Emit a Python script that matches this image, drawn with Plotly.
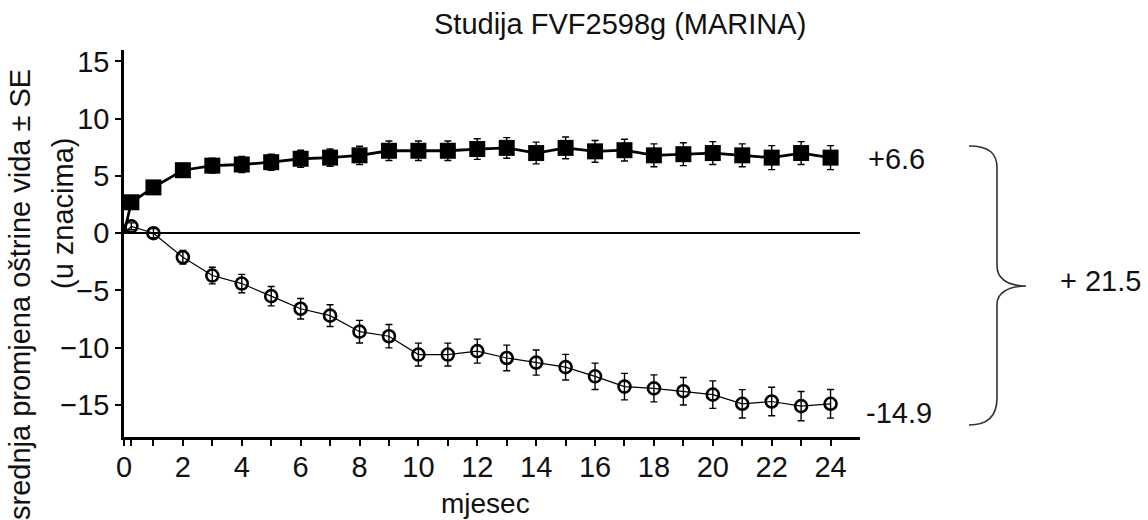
import plotly.graph_objects as go

# ---- data ----
months = [0, 0.25] + list(range(1, 25))
ranibizumab = [0, 2.7, 4.0, 5.5, 5.9, 6.0, 6.2, 6.5, 6.6, 6.8, 7.2, 7.2, 7.2, 7.35,
               7.45, 7.0, 7.45, 7.15, 7.25, 6.8, 6.9, 7.0, 6.8, 6.6, 7.0, 6.6]
ranibizumab_se = [0, 0.4, 0.5, 0.6, 0.65, 0.7, 0.7, 0.75, 0.75, 0.8, 0.85, 0.85, 0.85,
                  0.9, 0.9, 0.95, 0.95, 0.95, 0.95, 1.0, 1.0, 1.0, 1.0, 1.05, 1.0, 1.05]
sham = [0, 0.6, 0.0, -2.1, -3.7, -4.4, -5.5, -6.6, -7.2, -8.6, -9.0, -10.6, -10.6, -10.3,
        -10.9, -11.3, -11.7, -12.5, -13.4, -13.55, -13.8, -14.1, -14.9, -14.7, -15.1, -14.9]
sham_se = [0, 0.3, 0.4, 0.6, 0.73, 0.8, 0.85, 0.9, 0.95, 0.99, 1.02, 1.0, 1.0, 1.05,
           1.12, 1.1, 1.12, 1.15, 1.16, 1.18, 1.2, 1.2, 1.24, 1.25, 1.28, 1.25]

x_tickvals = [0, 0.25] + list(range(1, 25))
x_ticktext = ["0", ""] + [str(m) if m % 2 == 0 else "" for m in range(1, 25)]
y_tickvals = [15, 10, 5, 0, -5, -10, -15]

title_text = "Studija FVF2598g (MARINA)"
ytitle_1 = "srednja promjena oštrine vida ± SE"
ytitle_2 = "(u znacima)"
xtitle = "mjesec"
label_rani = "+6.6"
label_sham = "-14.9"
label_diff = "+ 21.5"

# ---- layout geometry ----
W, H = 1148, 520
ML, MR, MT, MB = 124, 288, 50, 83
PW, PH = W - ML - MR, H - MT - MB


def pp(px, py):
    """pixel -> paper coordinates"""
    return (px - ML) / PW, (H - MB - py) / PH


FONT = "Liberation Sans, Arial, sans-serif"
INK = "#111111"

fig = go.Figure()

marker_sizes_sq = [0] + [16] * (len(months) - 1)
marker_sizes_ci = [0] + [12] * (len(months) - 1)

fig.add_trace(go.Scatter(
    x=months, y=sham, mode="lines+markers",
    line=dict(color="black", width=1.2),
    marker=dict(symbol="circle-open", size=marker_sizes_ci, color="black", opacity=1,
                line=dict(width=2.6, color="black")),
    error_y=dict(type="data", array=sham_se, visible=True, color="black",
                 thickness=1.4, width=3.5),
    showlegend=False, cliponaxis=True,
))
fig.add_trace(go.Scatter(
    x=months, y=ranibizumab, mode="lines+markers",
    line=dict(color="black", width=2.8),
    marker=dict(symbol="square", size=marker_sizes_sq, color="black", opacity=1,
                line=dict(width=0)),
    error_y=dict(type="data", array=ranibizumab_se, visible=True, color="black",
                 thickness=1.4, width=3.5),
    showlegend=False, cliponaxis=True,
))

# brace (pixel definition -> paper)
def P(px, py):
    x, y = pp(px, py)
    return f"{x:.5f},{y:.5f}"

brace = (f"M {P(969,146)} C {P(990,146)} {P(997,154)} {P(997,168)} "
         f"L {P(997,266)} C {P(997,278)} {P(1007,286)} {P(1026,286)} "
         f"C {P(1007,286)} {P(997,294)} {P(997,304)} "
         f"L {P(997,398)} C {P(997,413)} {P(990,425)} {P(969,425)}")
fig.add_shape(type="path", path=brace, xref="paper", yref="paper",
              line=dict(color="#333333", width=1.6))

ann = []
for txt, (px, py) in [(label_rani, (866, 159)), (label_sham, (864, 413)),
                      (label_diff, (1058, 281))]:
    ax_, ay_ = pp(px, py)
    ann.append(dict(text=txt, x=ax_, y=ay_, xref="paper", yref="paper",
                    xanchor="left", yanchor="middle", showarrow=False,
                    font=dict(size=29, color=INK, family=FONT)))
for txt, (px, py) in [(ytitle_1, (20, 295)), (ytitle_2, (63, 213))]:
    ax_, ay_ = pp(px, py)
    ann.append(dict(text=txt, x=ax_, y=ay_, xref="paper", yref="paper",
                    xanchor="center", yanchor="middle", showarrow=False,
                    textangle=-90,
                    font=dict(size=29, color=INK, family=FONT)))
tx, ty = pp(620, 24)
ann.append(dict(text=title_text, x=tx, y=ty, xref="paper", yref="paper",
                xanchor="center", yanchor="middle", showarrow=False,
                font=dict(size=29, color=INK, family=FONT)))
mx, my = pp(485, 503)
ann.append(dict(text=xtitle, x=mx, y=my, xref="paper", yref="paper",
                xanchor="center", yanchor="middle", showarrow=False,
                font=dict(size=28, color=INK, family=FONT)))

fig.update_layout(
    width=W, height=H, autosize=False,
    margin=dict(l=ML, r=MR, t=MT, b=MB, pad=0),
    paper_bgcolor="white", plot_bgcolor="white",
    font=dict(family=FONT, color=INK, size=28),
    annotations=ann,
    xaxis=dict(range=[0, 25], tickvals=x_tickvals, ticktext=x_ticktext,
               showgrid=False, zeroline=False, showline=True, linecolor="black",
               linewidth=2.5, ticks="outside", ticklen=6, tickwidth=2,
               tickcolor="black", ticklabelstandoff=-4,
               tickfont=dict(size=29, color=INK, family=FONT)),
    yaxis=dict(range=[-17.8, 16], tickvals=y_tickvals, showgrid=False,
               zeroline=True, zerolinecolor="black", zerolinewidth=2.2,
               showline=True, linecolor="black", linewidth=2.5, ticks="outside",
               ticklen=6, tickwidth=2, tickcolor="black",
               tickfont=dict(size=29, color=INK, family=FONT)),
)

fig.write_html(
    "out.html",
    config={"displayModeBar": False},
    post_script="document.body.style.margin='0';document.body.style.padding='0';"
                "document.body.style.overflow='hidden';",
)
